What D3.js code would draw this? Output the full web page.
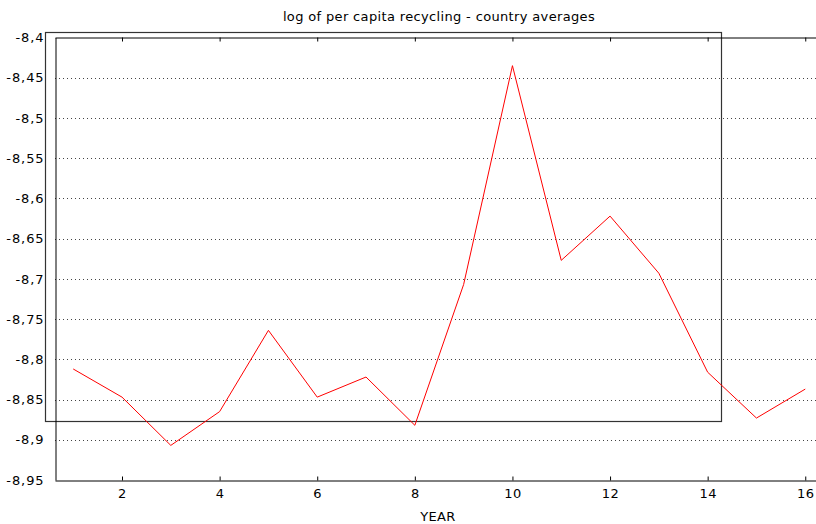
<!DOCTYPE html>
<html>
<head>
<meta charset="utf-8">
<script src="https://cdn.jsdelivr.net/npm/d3@7"></script>
<style>
  html, body { margin: 0; padding: 0; background: #fff; }
  svg { display: block; }
  text { font-family: "DejaVu Sans", Verdana, sans-serif; fill: #000; }
</style>
</head>
<body>
<svg id="chart" width="816" height="524"></svg>
<script>
// Country averages of log per-capita recycling, by year index
const years = [1, 2, 3, 4, 5, 6, 7, 8, 9, 10, 11, 12, 13, 14, 15, 16];
const logRecycling = [-8.812, -8.847, -8.907, -8.865, -8.764, -8.847, -8.822, -8.882,
                      -8.707, -8.435, -8.677, -8.622, -8.693, -8.816, -8.873, -8.837];
const yTicks = [-8.4, -8.45, -8.5, -8.55, -8.6, -8.65, -8.7, -8.75, -8.8, -8.85, -8.9, -8.95];
const xTicks = [2, 4, 6, 8, 10, 12, 14, 16];

const svg = d3.select("#chart");
const plotLeft = 55, plotRight = 816, plotTop = 37.5, plotBottom = 480;

const x = d3.scaleLinear().domain([0.627, 16.22]).range([plotLeft, plotRight]);
const y = d3.scaleLinear().domain([-8.95, -8.4]).range([plotBottom, plotTop]);

const fmt = v => String(+v.toFixed(2)).replace(".", ",");

// dotted horizontal grid
svg.append("g").selectAll("line")
  .data(yTicks.filter(v => v > -8.95 && v < -8.4))
  .join("line")
  .attr("x1", plotLeft).attr("x2", plotRight)
  .attr("y1", d => Math.round(y(d)) + 0.5).attr("y2", d => Math.round(y(d)) + 0.5)
  .attr("stroke", "#444").attr("stroke-width", 1)
  .attr("stroke-dasharray", "1,3");

// frame box
svg.append("rect")
  .attr("x", 45.5).attr("y", 32.5).attr("width", 676).attr("height", 389)
  .attr("fill", "none").attr("stroke", "#333").attr("stroke-width", 1.2);

// left axis
const yAxis = d3.axisLeft(y).tickValues(yTicks).tickSize(0).tickPadding(11).tickFormat(fmt);
const gy = svg.append("g").attr("transform", `translate(${plotLeft + 0.5},0)`).call(yAxis);
gy.select(".domain").attr("stroke", "#000");
gy.selectAll("text").attr("font-size", 13).attr("letter-spacing", 0.9)
  .attr("font-family", "DejaVu Sans, Verdana, sans-serif");

// bottom axis, ticks pointing inward
const xAxis = d3.axisBottom(x).tickValues(xTicks).tickSize(-4).tickSizeOuter(0).tickPadding(8);
const gx = svg.append("g").attr("transform", `translate(0,${plotBottom + 0.5})`).call(xAxis);
gx.select(".domain").attr("stroke", "#000");
gx.selectAll("text").attr("font-size", 13).attr("letter-spacing", 0.5)
  .attr("font-family", "DejaVu Sans, Verdana, sans-serif");

// top axis, ticks pointing inward, no labels
const tAxis = d3.axisTop(x).tickValues(xTicks).tickSize(-4).tickSizeOuter(0).tickFormat("");
const gt = svg.append("g").attr("transform", `translate(0,${plotTop})`).call(tAxis);
gt.select(".domain").attr("stroke", "#000");

// data line
const line = d3.line().x((d, i) => x(years[i])).y(d => y(d));
svg.append("path")
  .datum(logRecycling)
  .attr("d", line)
  .attr("fill", "none")
  .attr("stroke", "#ff0000")
  .attr("stroke-width", 1);

// titles
svg.append("text")
  .attr("x", 439).attr("y", 21)
  .attr("text-anchor", "middle").attr("font-size", 13).attr("letter-spacing", 0.35)
  .text("log of per capita recycling - country averages");

svg.append("text")
  .attr("x", 438).attr("y", 521)
  .attr("text-anchor", "middle").attr("font-size", 13).attr("letter-spacing", 0.3)
  .text("YEAR");
</script>
</body>
</html>
